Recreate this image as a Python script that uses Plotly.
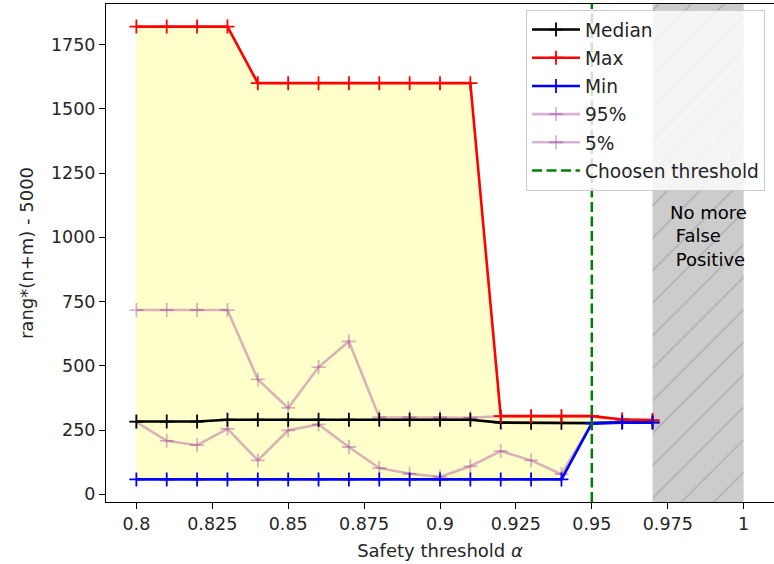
import plotly.graph_objects as go

alpha = [0.80, 0.81, 0.82, 0.83, 0.84, 0.85, 0.86, 0.87, 0.88, 0.89,
         0.90, 0.91, 0.92, 0.93, 0.94, 0.95, 0.96, 0.97]
median = [283, 283, 283, 290, 290, 290, 290, 290, 290, 290,
          290, 290, 279, 278, 278, 277, 280, 280]
vmax = [1820, 1820, 1820, 1820, 1600, 1600, 1600, 1600, 1600, 1600,
        1600, 1600, 304, 304, 304, 304, 291, 289]
vmin = [58, 58, 58, 58, 58, 58, 58, 58, 58, 58,
        58, 58, 58, 58, 58, 276, 279, 279]
p95 = [717, 717, 717, 717, 447, 336, 495, 595, 300, 300,
       300, 298, 304, 304, 304, 304, 291, 289]
p5 = [281, 208, 191, 255, 132, 249, 272, 184, 102, 80,
      68, 109, 168, 132, 78, 276, 279, 279]
threshold = 0.95
no_fp_span = [0.97, 1.0]
no_fp_text = "No more<br>\u00a0False<br>\u00a0Positive"
xticks = [0.8, 0.825, 0.85, 0.875, 0.9, 0.925, 0.95, 0.975, 1.0]
xticklabels = ["0.8", "0.825", "0.85", "0.875", "0.9", "0.925", "0.95", "0.975", "1"]
yticks = [0, 250, 500, 750, 1000, 1250, 1500, 1750]

YR = [-30, 1908]
XR = [0.79, 1.01]
FONT = "DejaVu Sans"
FS_TICK = 17.5
FS = 18
FS_LEG = 18.6
TXT = "#262626"

fig = go.Figure()

# hatched "no more false positive" region
fig.add_trace(go.Scatter(
    x=[no_fp_span[0], no_fp_span[1], no_fp_span[1], no_fp_span[0], no_fp_span[0]],
    y=[YR[0], YR[0], YR[1], YR[1], YR[0]],
    mode="lines", fill="toself", line=dict(width=0, color="rgba(0,0,0,0)"),
    fillcolor="rgb(204,204,204)",
    fillpattern=dict(shape="/", bgcolor="rgb(204,204,204)", fgcolor="rgb(140,140,140)",
                     size=23, solidity=0.06),
    showlegend=False, hoverinfo="skip"))

# yellow band between min and max
fig.add_trace(go.Scatter(x=alpha, y=vmin, mode="lines", line=dict(width=0),
                         showlegend=False, hoverinfo="skip"))
fig.add_trace(go.Scatter(x=alpha, y=vmax, mode="lines", line=dict(width=0),
                         fill="tonexty", fillcolor="rgba(255,255,0,0.2)",
                         showlegend=False, hoverinfo="skip"))

pink = "rgba(128,0,128,0.3)"

def series(name, y, color, group):
    return go.Scatter(
        x=alpha, y=y, name=name, mode="lines+markers", legendgroup=group,
        line=dict(color=color, width=2.6),
        marker=dict(symbol="cross-thin", size=10, color=color,
                    line=dict(color=color, width=1.8)))

fig.add_trace(series("95%", p95, pink, "d"))
fig.add_trace(series("5%", p5, pink, "e"))
fig.add_trace(series("Median", median, "black", "a"))
fig.add_trace(series("Max", vmax, "red", "b"))
fig.add_trace(series("Min", vmin, "blue", "c"))

fig.add_trace(go.Scatter(x=[threshold, threshold], y=YR, mode="lines",
                         name="Choosen threshold", legendgroup="f",
                         line=dict(color="green", width=2.5, dash="10px,4.5px")))

fig.add_annotation(x=0.9752, y=1006, text=no_fp_text, showarrow=False,
                   xanchor="left", yanchor="middle", align="left",
                   font=dict(family=FONT, size=FS, color="black"))

axis_common = dict(showline=True, linecolor="black", linewidth=1.1, mirror=True,
                   ticks="outside", ticklen=6, tickwidth=1.1, tickcolor="black",
                   showgrid=False, zeroline=False, automargin=False,
                   tickfont=dict(family=FONT, size=FS_TICK, color=TXT))

fig.update_xaxes(range=XR, tickvals=xticks, ticktext=xticklabels,
                 title=dict(text="Safety threshold <i>α</i>", standoff=11,
                            font=dict(family=FONT, size=FS, color=TXT)),
                 **axis_common)
fig.update_yaxes(range=YR, tickvals=yticks,
                 title=dict(text="rang*(n+m) - 5000", standoff=12,
                            font=dict(family=FONT, size=FS, color=TXT)),
                 **axis_common)

legend_order = {"a": 1, "b": 2, "c": 3, "d": 4, "e": 5, "f": 6}
for tr in fig.data:
    if tr.legendgroup in legend_order:
        tr.legendrank = legend_order[tr.legendgroup]

fig.update_layout(
    width=774, height=564,
    margin=dict(l=106, r=0, t=4, b=62, autoexpand=False),
    plot_bgcolor="white", paper_bgcolor="white",
    font=dict(family=FONT, size=FS, color=TXT),
    legend=dict(x=0.9865, xanchor="right", y=0.988, yanchor="top",
                bgcolor="rgba(255,255,255,0.8)", bordercolor="#cccccc", borderwidth=1,
                traceorder="grouped", tracegroupgap=1, itemwidth=48,
                font=dict(family=FONT, size=FS_LEG, color=TXT)),
)

fig.write_html("out.html", config={"displayModeBar": False},
               post_script="document.body.style.margin='0px';")
